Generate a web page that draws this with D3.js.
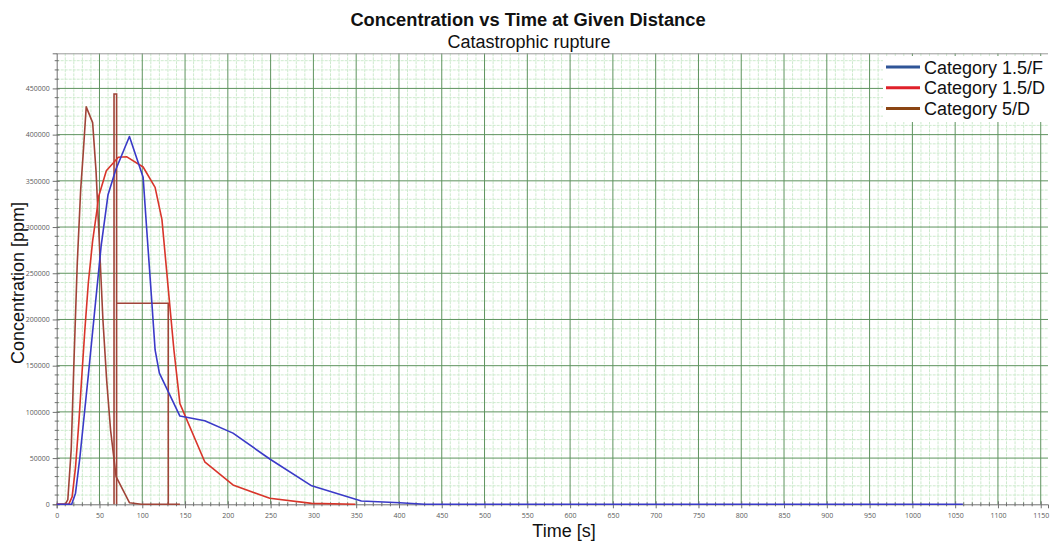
<!DOCTYPE html>
<html>
<head>
<meta charset="utf-8">
<script src="https://cdn.jsdelivr.net/npm/d3@7"></script>
<style>
  html, body { margin: 0; padding: 0; background: #fff; }
  svg { display: block; font-family: "Liberation Sans", Arial, sans-serif; }
</style>
</head>
<body>
<svg id="chart" width="1051" height="544"></svg>
<script>
// Concentration time series [s, ppm]
const seriesNames = ["Category 1.5/F", "Category 1.5/D", "Category 5/D"];
const seriesColors = ["#3a3ac8", "#d8352a", "#a04438"];
const legendColors = ["#2f5597", "#e0202a", "#8b4513"];

const timeF = [0, 17.5, 22, 27, 32, 37, 45, 52, 60, 69, 85, 101, 105, 111, 115, 120, 144, 173, 206, 249, 298, 356, 401, 430, 1059];
const concF = [0, 0, 12000, 50000, 95000, 140000, 215000, 280000, 335000, 362000, 398000, 354000, 300000, 221000, 167000, 142000, 95500, 90500, 77000, 49000, 20000, 3600, 1700, 0, 0];

const timeD = [0, 14, 18, 22, 26, 29, 33, 37, 42, 47, 49, 58, 72, 82, 101, 115, 123, 131.6, 137, 144, 173, 206, 249, 298, 349];
const concD = [0, 0, 8000, 40000, 90000, 134000, 190000, 240000, 285000, 318000, 333000, 361000, 375500, 376000, 365000, 343000, 308000, 221000, 167000, 109000, 46000, 21000, 6500, 1000, 0];

const time5D = [0, 10, 13, 17, 20, 24, 28, 31, 34.5, 42, 46, 50, 54, 58.4, 63, 69.4, 85, 99, 144];
const conc5D = [0, 0, 5000, 60000, 150000, 260000, 340000, 380000, 430000, 413000, 360000, 280000, 200000, 134000, 80000, 30000, 1700, 0, 0];

// Release pulse of Category 5/D
const pulseTime = [67, 67, 70, 70, 70, 130.4, 130.4];
const pulseConc = [0, 444000, 444000, 0, 217500, 217500, 0];

const xTicks = d3.range(0, 1151, 50);
const yTicks = d3.range(0, 450001, 50000);

const svg = d3.select("#chart");
const W = 1051, H = 544;
const m = { left: 56.7, right: 3, top: 53.3, bottom: 39.7 };
const pw = W - m.left - m.right, ph = H - m.top - m.bottom;

const x = d3.scaleLinear().domain([0, 1158.5]).range([m.left, m.left + pw]);
const y = d3.scaleLinear().domain([0, 488000]).range([m.top + ph, m.top]);

const g = svg.append("g");

// plot background
g.append("rect").attr("x", m.left).attr("y", m.top).attr("width", pw).attr("height", ph).attr("fill", "#fff");

// minor grid
const xMinor = d3.range(0, 1158.5, 10).filter(v => v % 50 !== 0);
const yMinor = d3.range(0, 488000, 10000).filter(v => v % 50000 !== 0);
g.append("g").selectAll("line").data(xMinor).join("line")
  .attr("x1", d => x(d)).attr("x2", d => x(d)).attr("y1", m.top).attr("y2", m.top + ph)
  .attr("stroke", "#cdeacd").attr("stroke-width", 1).attr("stroke-dasharray", "3,1");
g.append("g").selectAll("line").data(yMinor).join("line")
  .attr("y1", d => y(d)).attr("y2", d => y(d)).attr("x1", m.left).attr("x2", m.left + pw)
  .attr("stroke", "#cdeacd").attr("stroke-width", 1).attr("stroke-dasharray", "3,1");

// major grid
g.append("g").selectAll("line").data(xTicks.filter(d => d > 0)).join("line")
  .attr("x1", d => x(d)).attr("x2", d => x(d)).attr("y1", m.top).attr("y2", m.top + ph)
  .attr("stroke", "#5e935e").attr("stroke-width", 1);
g.append("g").selectAll("line").data(yTicks.filter(d => d > 0)).join("line")
  .attr("y1", d => y(d)).attr("y2", d => y(d)).attr("x1", m.left).attr("x2", m.left + pw)
  .attr("stroke", "#5e935e").attr("stroke-width", 1);

// top border
g.append("line").attr("x1", m.left).attr("x2", m.left + pw).attr("y1", m.top + 0.5).attr("y2", m.top + 0.5)
  .attr("stroke", "#9a9a9a");

// axes
const xAxis = d3.axisBottom(x).tickValues(xTicks).tickSize(4).tickFormat(d3.format("d"));
const yAxis = d3.axisLeft(y).tickValues(yTicks).tickSize(4).tickFormat(d3.format("d"));

const gx = g.append("g").attr("transform", `translate(0,${m.top + ph})`).call(xAxis);
const gy = g.append("g").attr("transform", `translate(${m.left},0)`).call(yAxis);
[gx, gy].forEach(a => {
  a.select(".domain").attr("stroke", "#707070");
  a.selectAll(".tick line").attr("stroke", "#707070");
  a.selectAll(".tick text").style("fill", "#5a5a5a").style("font-size", "7px")
    .style("font-family", "'Open Sans', 'DejaVu Sans', sans-serif");
});
gx.selectAll(".tick text").attr("dy", "0.9em");
gy.selectAll(".tick text").attr("x", -7);
gx.selectAll(".tick line").attr("y1", -3).attr("y2", 4);
gy.selectAll(".tick line").attr("x1", -4).attr("x2", 3);

// minor ticks on both axes
g.append("g").selectAll("line").data(xMinor).join("line")
  .attr("x1", d => x(d)).attr("x2", d => x(d)).attr("y1", m.top + ph - 2).attr("y2", m.top + ph + 2)
  .attr("stroke", "#707070");
g.append("g").selectAll("line").data(yMinor).join("line")
  .attr("y1", d => y(d)).attr("y2", d => y(d)).attr("x1", m.left - 2).attr("x2", m.left + 2)
  .attr("stroke", "#707070");

// series
const line = d3.line().x(d => x(d[0])).y(d => y(d[1]));
const seriesData = [
  d3.zip(timeF, concF),
  d3.zip(timeD, concD),
  d3.zip(time5D, conc5D)
];
const plot = g.append("g");
plot.append("path").datum(d3.zip(pulseTime, pulseConc)).attr("d", line)
  .attr("fill", "none").attr("stroke", seriesColors[2]).attr("stroke-width", 1.6);
[2, 1, 0].forEach(i => {
  plot.append("path").datum(seriesData[i]).attr("d", line)
    .attr("fill", "none").attr("stroke", seriesColors[i]).attr("stroke-width", 1.6)
    .attr("stroke-linejoin", "round");
});

// legend
const lg = g.append("g").attr("transform", "translate(883,56)");
lg.append("rect").attr("x", 0).attr("y", 0).attr("width", 165).attr("height", 66).attr("fill", "#fff");
seriesNames.forEach((name, i) => {
  const yy = 11 + i * 20.7;
  lg.append("line").attr("x1", 3).attr("x2", 37).attr("y1", yy).attr("y2", yy)
    .attr("stroke", legendColors[i]).attr("stroke-width", 3);
  lg.append("text").attr("x", 41).attr("y", yy + 6.5).text(name)
    .style("font-size", "18px").style("fill", "#111");
});

// titles
svg.append("text").attr("x", 528).attr("y", 26).attr("text-anchor", "middle")
  .style("font-size", "18.3px").style("font-weight", "bold").style("fill", "#111")
  .text("Concentration vs Time at Given Distance");
svg.append("text").attr("x", 529).attr("y", 48).attr("text-anchor", "middle")
  .style("font-size", "18px").style("fill", "#111")
  .text("Catastrophic rupture");
svg.append("text").attr("x", 564).attr("y", 537).attr("text-anchor", "middle")
  .style("font-size", "18px").style("fill", "#111").text("Time [s]");
svg.append("text").attr("transform", "translate(24,283) rotate(-90)").attr("text-anchor", "middle")
  .style("font-size", "18px").style("fill", "#111").text("Concentration [ppm]");
</script>
</body>
</html>
